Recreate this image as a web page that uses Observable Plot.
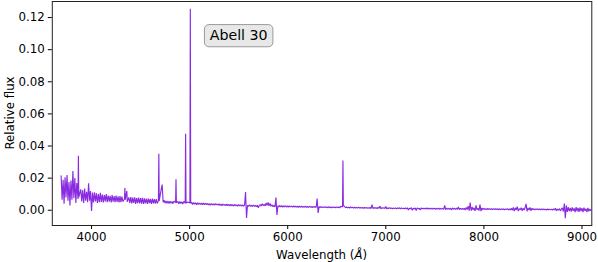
<!DOCTYPE html>
<html><head><meta charset="utf-8">
<script src="https://cdn.jsdelivr.net/npm/d3@7"></script>
<script src="https://cdn.jsdelivr.net/npm/@observablehq/plot@0.6"></script>
<style>html,body{margin:0;padding:0;background:#fff}svg{display:block}</style>
</head><body><div id="chart"></div>
<script>
const wavelength = [
3690,3700,3710,3720,3730,3740,3750,3760,3770,3780,
3790,3800,3810,3820,3830,3840,3850,3862,3866,3870,
3890,3900,3910,3920,3930,3940,3950,3960,3970,3980,
3990,4000,4010,4020,4030,4040,4050,4060,4070,4080,
4090,4100,4110,4120,4130,4140,4150,4160,4170,4180,
4190,4200,4210,4220,4230,4240,4250,4260,4270,4280,
4290,4300,4310,4320,4336,4340,4344,4360,4364,4380,
4390,4400,4410,4420,4430,4440,4450,4460,4470,4480,
4490,4500,4510,4520,4530,4540,4550,4560,4570,4580,
4590,4600,4610,4620,4630,4640,4650,4660,4670,4682,
4686,4690,4710,4720,4730,4740,4750,4760,4770,4780,
4790,4800,4810,4820,4830,4840,4857,4861,4865,4880,
4890,4900,4910,4920,4930,4940,4955,4959,4963,4980,
5003,5007,5011,5020,5030,5040,5050,5060,5070,5080,
5090,5100,5110,5120,5130,5140,5150,5160,5170,5180,
5190,5200,5210,5220,5230,5240,5250,5260,5270,5280,
5290,5300,5310,5320,5330,5340,5350,5360,5370,5380,
5390,5400,5410,5420,5430,5440,5450,5460,5470,5480,
5490,5500,5510,5520,5530,5540,5550,5560,5570,5580,
5590,5600,5610,5620,5630,5640,5650,5660,5670,5680,
5690,5700,5710,5720,5730,5740,5750,5760,5770,5780,
5790,5800,5810,5820,5830,5840,5850,5860,5870,5880,
5890,5900,5910,5920,5930,5940,5950,5960,5970,5980,
5990,6000,6010,6020,6030,6040,6050,6060,6070,6080,
6090,6100,6110,6120,6130,6140,6150,6160,6170,6180,
6190,6200,6210,6220,6230,6240,6250,6260,6270,6280,
6290,6300,6310,6320,6330,6340,6350,6360,6370,6380,
6390,6400,6410,6420,6430,6440,6450,6460,6470,6480,
6490,6500,6510,6520,6530,6540,6559,6563,6567,6580,
6590,6600,6610,6620,6630,6640,6650,6660,6670,6680,
6690,6700,6710,6720,6730,6740,6750,6760,6770,6780,
6790,6800,6810,6820,6830,6840,6850,6860,6870,6880,
6890,6900,6910,6920,6930,6940,6950,6960,6970,6980,
6990,7000,7010,7020,7030,7040,7050,7060,7070,7080,
7090,7100,7110,7120,7130,7140,7150,7160,7170,7180,
7190,7200,7210,7220,7230,7240,7250,7260,7270,7280,
7290,7300,7310,7320,7330,7340,7350,7360,7370,7380,
7390,7400,7410,7420,7430,7440,7450,7460,7470,7480,
7490,7500,7510,7520,7530,7540,7550,7560,7570,7580,
7590,7600,7610,7620,7630,7640,7650,7660,7670,7680,
7690,7700,7710,7720,7730,7740,7750,7760,7770,7780,
7790,7800,7810,7820,7830,7840,7850,7860,7870,7880,
7890,7900,7910,7920,7930,7940,7950,7960,7970,7980,
7990,8000,8010,8020,8030,8040,8050,8060,8070,8080,
8090,8100,8110,8120,8130,8140,8150,8160,8170,8180,
8190,8200,8210,8220,8230,8240,8250,8260,8270,8280,
8290,8300,8310,8320,8330,8340,8350,8360,8370,8380,
8390,8400,8410,8420,8430,8440,8450,8460,8470,8480,
8490,8500,8510,8520,8530,8540,8550,8560,8570,8580,
8590,8600,8610,8620,8630,8640,8650,8660,8670,8680,
8690,8700,8710,8720,8730,8740,8750,8760,8770,8780,
8790,8800,8810,8820,8830,8840,8850,8860,8870,8880,
8890,8900,8910,8920,8930,8940,8950,8960,8970,8980,
8990,9000,9010,9020,9030,9040,9050,9060,9070,9080,9090,9100
];
const flux = [
0.0215,0.0065,0.0190,0.0040,0.0205,0.0080,0.0220,0.0060,0.0175,0.0030,
0.0185,0.0065,0.0245,0.0075,0.0200,0.0045,0.0170,0.0070,0.0340,0.0080,
0.0130,0.0055,0.0125,0.0045,0.0135,0.0060,0.0115,0.0050,0.0168,0.0060,
0.0120,-0.0004,0.0110,0.0048,0.0112,0.0055,0.0105,0.0045,0.0100,0.0050,
0.0108,0.0052,0.0098,0.0048,0.0095,0.0055,0.0100,0.0050,0.0092,0.0054,
0.0090,0.0048,0.0094,0.0053,0.0088,0.0050,0.0091,0.0052,0.0086,0.0049,
0.0088,0.0050,0.0085,0.0054,0.0070,0.0139,0.0066,0.0120,0.0052,0.0080,
0.0045,0.0082,0.0042,0.0078,0.0046,0.0080,0.0040,0.0076,0.0044,0.0079,
0.0043,0.0075,0.0041,0.0077,0.0039,0.0074,0.0042,0.0072,0.0040,0.0073,
0.0044,0.0070,0.0040,0.0072,0.0043,0.0069,0.0041,0.0070,0.0042,0.0060,
0.0352,0.0058,0.0128,0.0160,0.0050,0.0062,0.0044,0.0058,0.0043,0.0057,
0.0042,0.0056,0.0044,0.0055,0.0041,0.0057,0.0048,0.0193,0.0046,0.0055,
0.0040,0.0054,0.0042,0.0053,0.0039,0.0055,0.0045,0.0477,0.0044,0.0052,
0.0045,0.1255,0.0043,0.0050,0.0036,0.0048,0.0038,0.0047,0.0035,0.0046,
0.0037,0.0045,0.0036,0.0044,0.0035,0.0045,0.0034,0.0043,0.0036,0.0042,
0.0033,0.0042,0.0032,0.0041,0.0034,0.0040,0.0031,0.0041,0.0033,0.0039,
0.0031,0.0040,0.0030,0.0038,0.0029,0.0039,0.0031,0.0037,0.0028,0.0038,
0.0029,0.0036,0.0027,0.0037,0.0028,0.0035,0.0026,0.0036,0.0028,0.0034,
0.0026,0.0035,0.0027,0.0033,0.0025,0.0034,0.0026,0.0032,0.0114,-0.0048,
0.0031,0.0024,0.0033,0.0025,0.0031,0.0023,0.0032,0.0024,0.0030,0.0022,
0.0031,0.0016,0.0030,0.0035,0.0026,0.0040,0.0029,0.0037,0.0027,0.0045,
0.0030,0.0048,0.0028,0.0042,0.0025,0.0034,0.0022,0.0031,0.0020,0.0079,
-0.0030,0.0028,0.0021,0.0030,0.0020,0.0029,0.0019,0.0028,0.0021,0.0027,
0.0020,0.0028,0.0019,0.0027,0.0021,0.0026,0.0019,0.0027,0.0020,0.0026,
0.0019,0.0026,0.0018,0.0025,0.0020,0.0026,0.0018,0.0024,0.0019,0.0025,
0.0018,0.0024,0.0017,0.0025,0.0019,0.0023,0.0017,0.0024,0.0018,0.0023,
0.0017,0.0073,-0.0017,0.0022,0.0016,0.0023,0.0017,0.0021,0.0016,0.0022,
0.0016,0.0021,0.0015,0.0022,0.0016,0.0020,0.0015,0.0021,0.0016,0.0020,
0.0015,0.0021,0.0016,0.0020,0.0015,0.0024,0.0022,0.0310,0.0030,0.0022,
0.0016,0.0020,0.0015,0.0019,0.0014,0.0020,0.0015,0.0018,0.0014,0.0019,
0.0014,0.0018,0.0013,0.0019,0.0014,0.0017,0.0013,0.0018,0.0012,0.0017,
0.0013,0.0018,0.0012,0.0016,0.0013,0.0017,0.0011,0.0035,0.0010,0.0017,
0.0012,0.0016,0.0011,0.0017,0.0012,0.0026,0.0009,0.0016,0.0012,0.0015,
0.0011,0.0024,0.0008,0.0015,0.0011,0.0016,0.0010,0.0015,0.0009,0.0015,
0.0010,0.0015,0.0009,0.0014,0.0011,0.0015,0.0009,0.0014,0.0010,0.0013,
0.0009,0.0014,0.0008,0.0015,0.0002,0.0013,0.0009,0.0016,0.0000,0.0013,
0.0008,0.0014,-0.0002,0.0015,0.0009,0.0012,0.0001,0.0014,0.0008,0.0013,
0.0009,0.0013,0.0007,0.0014,0.0008,0.0012,0.0007,0.0013,0.0008,0.0012,
0.0007,0.0013,0.0006,0.0012,0.0008,0.0013,0.0006,0.0012,0.0007,0.0011,
0.0006,0.0030,0.0004,0.0013,0.0007,0.0012,0.0006,0.0013,0.0002,0.0014,
0.0007,0.0012,0.0005,0.0013,0.0006,0.0020,0.0004,0.0012,0.0006,0.0011,
0.0005,0.0012,0.0002,0.0018,0.0004,0.0025,-0.0002,0.0048,-0.0003,0.0020,
0.0002,0.0015,-0.0004,0.0030,0.0003,0.0012,-0.0002,0.0035,-0.0005,0.0014,
0.0004,0.0011,0.0005,0.0010,0.0004,0.0011,0.0005,0.0010,0.0004,0.0009,
0.0005,0.0010,0.0004,0.0009,0.0005,0.0010,0.0003,0.0009,0.0004,0.0008,
0.0004,0.0009,0.0003,0.0008,0.0004,0.0009,0.0003,0.0008,0.0001,0.0012,
0.0000,0.0018,-0.0006,0.0015,0.0002,0.0022,-0.0005,0.0010,0.0003,0.0016,
-0.0004,0.0012,0.0001,0.0015,0.0040,-0.0006,0.0014,0.0002,0.0018,-0.0003,
0.0012,0.0004,0.0009,0.0003,0.0008,0.0004,0.0009,0.0002,0.0008,0.0003,
0.0008,0.0002,0.0009,0.0003,0.0007,0.0001,0.0008,0.0003,0.0007,0.0002,
0.0007,0.0001,0.0008,0.0002,0.0012,-0.0003,0.0007,0.0001,0.0010,-0.0004,
0.0008,0.0015,-0.0008,0.0042,-0.0050,0.0030,-0.0010,0.0020,-0.0006,0.0015,
-0.0008,0.0018,-0.0004,0.0012,-0.0012,0.0020,-0.0006,0.0014,-0.0010,0.0017,
-0.0005,0.0013,-0.0011,0.0016,-0.0004,0.0010,-0.0012,0.0014,-0.0006,0.0008,-0.0003,0.0006
];
const xTicks = [4000, 5000, 6000, 7000, 8000, 9000];
const yTicks = [0.00, 0.02, 0.04, 0.06, 0.08, 0.10, 0.12];
const objectName = "Abell 30";
const labelPosition = {x: 5500, y: 0.109};
const xLabelText = "Wavelength (";
const xLabelUnit = "Å";
const yLabelText = "Relative flux";

const spectrum = wavelength.map((w, i) => ({w, f: flux[i]}));

const W = 598, H = 262;
const mL = 51.8, mR = 6.7, mT = 1, mB = 37;
const FONT = "DejaVu Sans";

const chart = Plot.plot({
  width: W, height: H,
  marginLeft: mL, marginRight: mR, marginTop: mT, marginBottom: mB,
  style: {fontFamily: FONT, fontSize: "11.8px", background: "#fff", color: "#000"},
  x: {domain: [3600, 9100]},
  y: {domain: [-0.0095, 0.130]},
  marks: [
    Plot.line(spectrum, {x: "w", y: "f", stroke: "#8a2be2", strokeWidth: 1.15, strokeLinejoin: "miter", strokeMiterlimit: 1, clip: true}),
    Plot.axisX({ticks: xTicks, tickSize: 4, tickPadding: 3.5, tickFormat: d3.format("d"), label: null}),
    Plot.axisY({ticks: yTicks, tickSize: 4, tickPadding: 3.5, tickFormat: d3.format(".2f"), label: null}),
    Plot.frame({stroke: "#222", strokeWidth: 1}),
    Plot.text([{...labelPosition, t: objectName}], {x: "x", y: "y", text: "t", fontSize: 14.2, fill: "#000", textAnchor: "middle", lineAnchor: "middle"})
  ]
});
document.getElementById("chart").append(chart);

const svg = d3.select(chart);
// rounded label box behind the annotation
const tnode = svg.selectAll("text").filter(function(){ return this.textContent === objectName; }).node();
if (tnode) {
  const bb = tnode.getBBox();
  d3.select(tnode.parentNode).insert("rect", ":first-child")
    .attr("transform", tnode.getAttribute("transform"))
    .attr("x", bb.x - 5.3).attr("y", bb.y - 2.2)
    .attr("width", bb.width + 10.6).attr("height", bb.height + 6.2)
    .attr("rx", 4.5).attr("ry", 4.5)
    .attr("fill", "#e8e8e8").attr("stroke", "#9a9a9a").attr("stroke-width", 1);
}
// axis titles
const xl = svg.append("text")
  .attr("x", mL + (W - mL - mR) / 2).attr("y", 258.5)
  .attr("text-anchor", "middle").attr("font-family", FONT).attr("font-size", 11.8).attr("fill", "#000");
xl.append("tspan").text(xLabelText);
xl.append("tspan").attr("font-style", "italic").text(xLabelUnit);
xl.append("tspan").text(")");
svg.append("text")
  .attr("transform", `translate(14,${mT + (H - mT - mB) / 2}) rotate(-90)`)
  .attr("text-anchor", "middle").attr("font-family", FONT).attr("font-size", 11.8).attr("fill", "#000")
  .text(yLabelText);
</script>
</body></html>
